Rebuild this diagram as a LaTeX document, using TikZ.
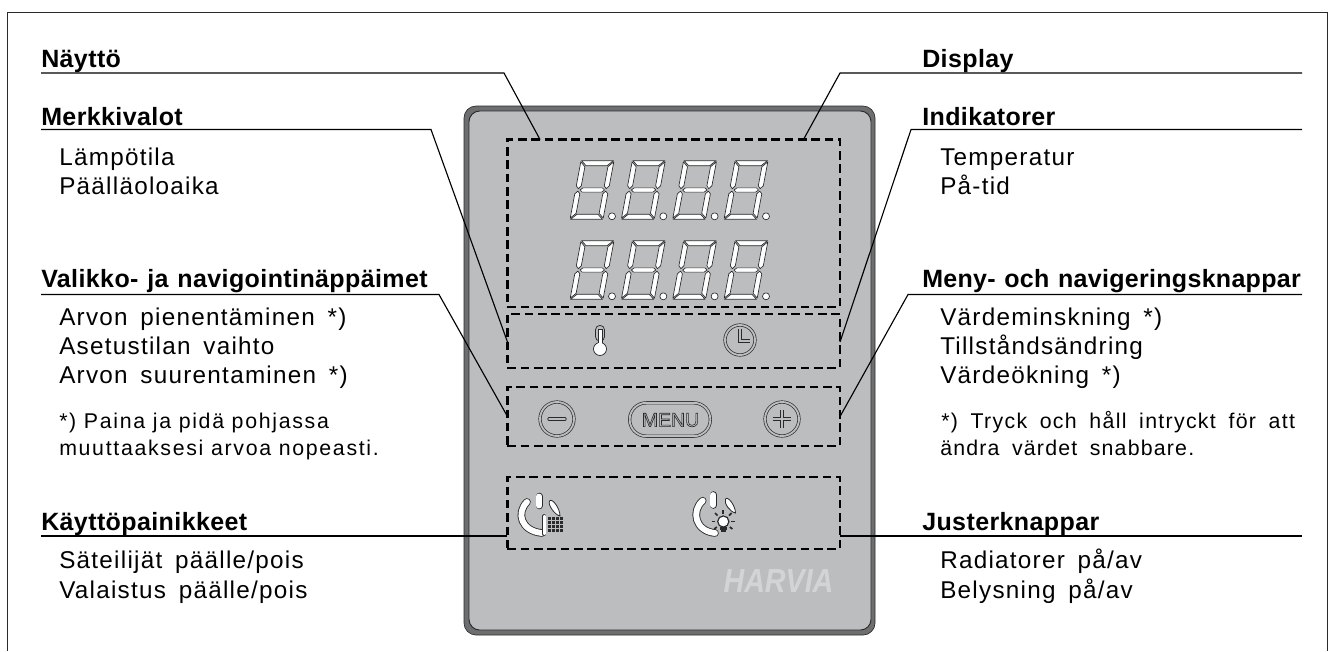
\documentclass[tikz,border=0pt]{standalone}
\usepackage{fontspec}
\setmainfont{Liberation Sans}
\newfontfamily\hdfam{Liberation Sans}[LetterSpace=1.6,WordSpace=1.2]
\newfontfamily\hdnarrow{Liberation Sans}[LetterSpace=1.2,WordSpace=1.2]
\newfontfamily\bodyfam{Liberation Sans}[LetterSpace=5.2,WordSpace=1.6]
\newfontfamily\lnotefam{Liberation Sans}[LetterSpace=7.9]
\newfontfamily\rnotefam{Liberation Sans}[LetterSpace=5.6,WordSpace=1.75]
\newfontfamily\rnotewide{Liberation Sans}[LetterSpace=6.1,WordSpace=1.75]
\definecolor{panelfill}{HTML}{BCBDBF}
\definecolor{paneledge}{HTML}{6D6E70}
\definecolor{logocol}{HTML}{D3D4D6}
\definecolor{ink}{HTML}{2A2A2A}
\tikzset{
  hd/.style={anchor=base west,inner sep=0pt,font=\hdfam\bfseries\fontsize{18.75}{20}\selectfont},
  hdn/.style={anchor=base west,inner sep=0pt,font=\hdnarrow\bfseries\fontsize{18.75}{20}\selectfont},
  body/.style={anchor=base west,inner sep=0pt,font=\bodyfam\fontsize{18.2}{20}\selectfont},
  lnote/.style={anchor=base west,inner sep=0pt,font=\lnotefam\fontsize{16}{18}\selectfont},
  rnote/.style={anchor=base west,inner sep=0pt,font=\rnotefam\fontsize{16}{18}\selectfont},
  rnotew/.style={anchor=base west,inner sep=0pt,font=\rnotewide\fontsize{16}{18}\selectfont},
  leader/.style={draw=black,line width=0.85pt},
  dashbox/.style={draw=black,line width=2pt,dash pattern=on 6.4pt off 3.6pt,inner sep=0pt,outer sep=0pt,fill=none},
  seg/.style={draw=ink,fill=white,line width=0.5pt,line join=round},
  dbl/.style={draw=ink,line width=0.5pt,double=panelfill,double distance=1.4pt,fill=none},
  whitepill/.style={draw=ink,line width=0.65pt,double=white,double distance=4.4pt,line cap=round},
}
\newcommand{\sevenseg}[2]{%
  \begin{scope}[cm={1,0,0.188,1,(#1,#2)}]
    \path[seg] (0.5,-58.6)--(32.5,-58.6)--(27,-53.6)--(6,-53.6)--cycle;
    \path[seg] (0.5,0)--(32.5,0)--(27,-5)--(6,-5)--cycle;
    \path[seg] (4.5,-29.3)--(7,-31.4)--(26.5,-31.4)--(29,-29.3)--(26.5,-27.2)--(7,-27.2)--cycle;
    \path[seg] (0,-57.5)--(5,-52.5)--(5,-33.5)--(2.6,-30.6)--(0,-33.5)--cycle;
    \path[seg] (33,-57.5)--(33,-33.5)--(30.4,-30.6)--(28,-33.5)--(28,-52.5)--cycle;
    \path[seg] (0,-25.5)--(2.6,-28.2)--(5,-25.5)--(5,-6)--(0,-1.2)--cycle;
    \path[seg] (33,-25.5)--(33,-1.2)--(28,-6)--(28,-25.5)--(30.4,-28.2)--cycle;
  \end{scope}
  \path[seg] (#1+42,#2-3) circle[radius=3.5];
}
\begin{document}
\begin{tikzpicture}[x=0.75pt,y=-0.75pt]
\useasboundingbox (0,0) rectangle (1333,651);
% outer frame
\coordinate (fa) at (7.5,651);
\coordinate (fb) at (7.5,12.5);
\coordinate (fc) at (1327.5,12.5);
\coordinate (fd) at (1327.5,651);
\draw[draw=ink,line width=1pt] (fa)--(fb)--(fc)--(fd);
% panel
\filldraw[draw=ink,line width=0.5pt,fill=paneledge,rounded corners=9pt] (464,106) rectangle (875,635);
\filldraw[draw=ink,line width=0.7pt,fill=panelfill,rounded corners=8pt] (469,111) rectangle (871,630);
% logo
\node[name=logo,inner sep=0pt,anchor=base,text=logocol,font=\bfseries\itshape\fontsize{25}{25}\selectfont,xscale=0.86,transform shape] at (778.5,592) {HARVIA};
% digits
\foreach \r in {219.3,299.3}{\foreach \c in {570,621.3,672.6,724}{\sevenseg{\c}{\r}}}
% dashed boxes
\node[dashbox,name=dispbox,minimum width=249.4pt,minimum height=125.6pt] at (673.75,223.25) {};
\node[dashbox,name=indbox,minimum width=249.4pt,minimum height=40.5pt] at (673.75,341) {};
\node[dashbox,name=menubox,minimum width=249.4pt,minimum height=44.25pt] at (673.75,416.5) {};
\node[dashbox,name=btnbox,minimum width=249.4pt,minimum height=54pt] at (673.75,513) {};
% thermometer
\path[draw=ink,line width=0.55pt,fill=panelfill,rounded corners=3pt] (595.6,341) -- (595.6,325.5) -- (604.4,325.5) -- (604.4,341) -- cycle;
\path[draw=ink,line width=0.55pt,fill=white] (600,349) circle[radius=6.5];
\path[fill=white] (598.2,329) rectangle (601.8,345);
\path[draw=ink,line width=0.4pt] (598,343) -- (598,329) -- (602,329) -- (602,343);
% clock
\node[name=clock,circle,dbl,minimum size=22.5pt,inner sep=0pt] at (740,340) {};
\draw[dbl] (740,328.5) -- (740,341) -- (749.5,341);
% minus, plus, menu
\node[name=minusbtn,circle,dbl,minimum size=25.5pt,inner sep=0pt] at (557,419) {};
\draw[dbl,line cap=round] (549,419) -- (565,419);
\node[name=plusbtn,circle,dbl,minimum size=25.5pt,inner sep=0pt] at (782,419) {};
\draw[dbl] (773,419) -- (791,419) (782,410) -- (782,428);
\node[name=menubtn,rectangle,rounded corners=12.4pt,dbl,minimum width=60.5pt,minimum height=25pt,inner sep=0pt] at (670,419.5) {};
\node[name=menutxt,inner sep=0pt,text=ink,font=\fontsize{14.6}{15}\selectfont] at (670.5,420) {\special{pdf:code 1 Tr 0.45 w}MENU\special{pdf:code 0 Tr}};
% left power icon
\draw[whitepill] (527,502) .. controls (516,513) and (521,531) .. (542,533);
\draw[whitepill] (539.3,496.5) -- (539.3,505.5);
\path[draw=ink,fill=white,line width=0.6pt] (549.5,501) .. controls (552,497.5) and (560,508) .. (560,516) .. controls (555,515) and (547.5,505) .. (549.5,501) -- cycle;
\draw[draw=ink,line width=0.5pt,double=white,double distance=1.8pt,line cap=round] (544.3,516) -- (544.3,534);
\foreach \yy in {518.3,522.5,526.5,530.5}{\draw[draw=ink,line width=2.1pt,dash pattern=on 2.4pt off 0.6pt] (548,\yy) -- (562.5,\yy);}
% right power icon
\draw[whitepill] (702.7,500.7) .. controls (691,511) and (695,531) .. (715,533);
\draw[whitepill] (713.3,495) -- (713.3,505);
\path[draw=ink,fill=white,line width=0.6pt] (725.5,499) .. controls (728,495.5) and (735.5,506) .. (735.5,513) .. controls (730,512) and (723.5,503) .. (725.5,499) -- cycle;
\path[draw=ink,fill=white,line width=0.9pt] (723.3,521.5) circle[radius=5.6];
\draw[ink,line width=1.9pt] (720,528.5) -- (726.5,528.5);
\draw[ink,line width=1.6pt] (721,531.3) -- (725.5,531.3);
\draw[ink,line width=1.3pt] (723.3,513.8) -- (723.3,510.3);
\draw[ink,line width=1.3pt] (717.6,515.6) -- (715,513);
\draw[ink,line width=1.3pt] (729,515.6) -- (731.6,513);
\draw[ink,line width=1.3pt] (715.2,521.5) -- (711.5,521.5);
\draw[ink,line width=1.3pt] (731.4,521.5) -- (735,521.5);
\draw[ink,line width=1.3pt] (716.8,527) -- (714.2,529);
\draw[ink,line width=1.3pt] (729.8,527) -- (732.4,529);
% left texts
\node[hd,name=t1] at (41,67) {Näyttö};
\node[hd,name=t2] at (41,125) {Merkkivalot};
\node[body,name=t3] at (59,165) {Lämpötila};
\node[body,name=t4] at (59,194) {Päälläoloaika};
\node[hd,name=t5] at (41,287) {Valikko- ja navigointinäppäimet};
\node[body,name=t6] at (59,325) {Arvon pienentäminen *)};
\node[body,name=t7] at (59,354.5) {Asetustilan vaihto};
\node[body,name=t8] at (59,383.5) {Arvon suurentaminen *)};
\node[lnote,name=t9] at (59,428) {*) Paina ja pidä pohjassa};
\node[lnote,name=t10] at (59,455) {muuttaaksesi arvoa nopeasti.};
\node[hd,name=t11] at (41,530) {Käyttöpainikkeet};
\node[body,name=t12] at (59,568) {Säteilijät päälle/pois};
\node[body,name=t13] at (59,598) {Valaistus päälle/pois};
% right texts
\node[hd,name=r1] at (922,67) {Display};
\node[hd,name=r2] at (922,125) {Indikatorer};
\node[body,name=r3] at (940,165) {Temperatur};
\node[body,name=r4] at (940,194) {På-tid};
\node[hdn,name=r5] at (922,287) {Meny- och navigeringsknappar};
\node[body,name=r6] at (940,325) {Värdeminskning *)};
\node[body,name=r7] at (940,354.5) {Tillståndsändring};
\node[body,name=r8] at (940,383.5) {Värdeökning *)};
\node[rnotew,name=r9] at (941,428) {*) Tryck och håll intryckt för att};
\node[rnote,name=r10] at (940,455) {ändra värdet snabbare.};
\node[hd,name=r11] at (922,530) {Justerknappar};
\node[body,name=r12] at (940,568) {Radiatorer på/av};
\node[body,name=r13] at (940,598) {Belysning på/av};
% leader anchor coordinates
\coordinate (la) at (41,73); \coordinate (lae) at (504,73);
\coordinate (lb) at (41,129.5); \coordinate (lbe) at (431,129.5);
\coordinate (lc) at (41,294.5); \coordinate (lce) at (439,294.5);
\coordinate (ld) at (41,536);
\coordinate (ra) at (1302,73); \coordinate (rae) at (840,73);
\coordinate (rb) at (1302,129.5); \coordinate (rbe) at (911,129.5);
\coordinate (rc) at (1302,294.5); \coordinate (rce) at (908,294.5);
\coordinate (rd) at (1302,536);
% leaders
\draw[leader] (la)--(lae)--([xshift=24.4pt]dispbox.north west);
\draw[leader] (lb)--(lbe)--([yshift=-0.75pt]indbox.west);
\draw[leader] (lc)--(lce)--(menubox.west);
\draw[leader] (ld)--(ld-|btnbox.west);
\draw[leader] (ra)--(rae)--([xshift=-27.4pt]dispbox.north east);
\draw[leader] (rb)--(rbe)--([yshift=-0.75pt]indbox.east);
\draw[leader] (rc)--(rce)--(menubox.east);
\draw[leader] (rd)--(rd-|btnbox.east);
\end{tikzpicture}
\end{document}
